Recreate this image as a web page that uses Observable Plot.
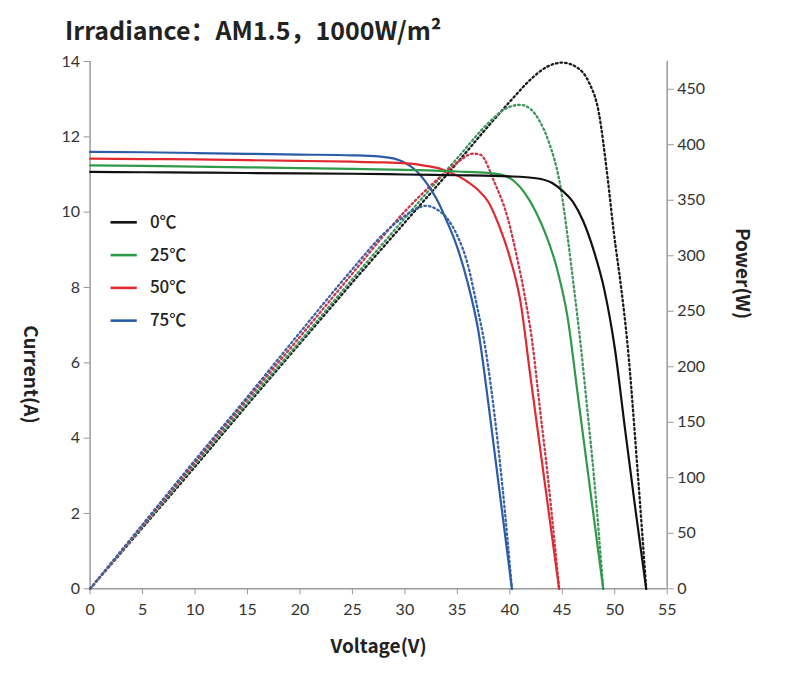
<!DOCTYPE html>
<html><head><meta charset="utf-8">
<script src="https://cdn.jsdelivr.net/npm/d3@7"></script>
<script src="https://cdn.jsdelivr.net/npm/@observablehq/plot@0.6"></script>
<style>
body{margin:0;background:#fff;}
#wrap{position:relative;width:790px;height:680px;overflow:hidden;}
#chart{position:absolute;left:0;top:0;}
#title{position:absolute;left:65px;top:11px;font-family:"Noto Sans CJK SC","Noto Sans",sans-serif;font-weight:bold;font-size:25px;color:#222;white-space:nowrap;}
</style></head><body>
<div id="wrap"><div id="chart"></div><div id="title">Irradiance：AM1.5，1000W/m²</div></div>
<script>
// ---- data ----
const seriesLabels = ["0℃", "25℃", "50℃", "75℃"];
const seriesColors = ["#111111", "#2e9a48", "#e02a2f", "#2b5ca8"];
const powerColors  = ["#1a1a1a", "#3f9560", "#cc3448", "#3a62a2"];

const xTicks = [0, 5, 10, 15, 20, 25, 30, 35, 40, 45, 50, 55];
const currentTicks = [0, 2, 4, 6, 8, 10, 12, 14];
const powerTicks = [0, 50, 100, 150, 200, 250, 300, 350, 400, 450];

// Current (A) vs Voltage (V)
const voltage0C = [0, 5, 10, 15, 20, 25, 30, 35, 40, 42.5, 44, 45, 46, 47, 48, 49, 50, 51, 52, 53];
const current0C = [11.07, 11.06, 11.05, 11.04, 11.03, 11.02, 11.0, 10.98, 10.95, 10.9, 10.78, 10.57, 10.28, 9.76, 8.98, 7.95, 6.4, 4.2, 2.05, 0];
const voltage25C = [0, 5, 10, 15, 20, 25, 30, 35, 38, 39.5, 40.5, 41.5, 42.5, 43.5, 44.5, 45.5, 46.5, 47.5, 48.9];
const current25C = [11.24, 11.23, 11.21, 11.19, 11.17, 11.15, 11.12, 11.08, 11.04, 10.97, 10.8, 10.48, 10.0, 9.36, 8.5, 7.22, 5.1, 2.97, 0];
const voltage50C = [0, 5, 10, 15, 20, 25, 28, 30.5, 32, 33.5, 35, 36, 37, 38, 39, 40, 41, 42, 43, 44.7];
const current50C = [11.42, 11.41, 11.40, 11.38, 11.36, 11.34, 11.32, 11.29, 11.23, 11.14, 10.97, 10.8, 10.58, 10.25, 9.62, 8.8, 7.65, 5.56, 3.5, 0];
const voltage75C = [0, 5, 10, 15, 20, 25, 27.5, 29, 30, 31, 32, 33, 34, 35, 36, 37, 38, 39, 40.2];
const current75C = [11.6, 11.59, 11.57, 11.55, 11.53, 11.51, 11.48, 11.42, 11.31, 11.12, 10.8, 10.36, 9.76, 9.06, 8.11, 6.85, 4.83, 2.63, 0];

// Power (W) vs Voltage (V)
const pVoltage0C = [0, 5, 10, 15, 20, 25, 30, 35, 38.8, 40.4, 42, 43.5, 45, 46.5, 47.5, 48.5, 49.3, 49.9, 50.6, 51.2, 52.15, 53];
const power0C    = [0, 55, 110, 166, 221, 276, 330, 384, 426, 443, 459, 470, 474, 469, 457, 428, 372, 322, 272, 222, 110, 0];
const pVoltage25C = [0, 5, 10, 15, 20, 25, 30, 35, 38, 39.5, 41, 42, 42.8, 43.7, 44.85, 45.5, 46.1, 46.75, 47.4, 48, 48.9];
const power25C    = [0, 56, 112, 168, 223, 279, 334, 388, 420, 432, 436, 432, 422, 403, 361, 318, 272, 220, 160, 103, 0];
const pVoltage50C = [0, 5, 10, 15, 20, 25, 30, 33, 35, 36.5, 37.2, 38.5, 39.8, 40.7, 41.4, 42.1, 42.9, 43.6, 44.7];
const power50C    = [0, 57, 114, 171, 227, 284, 340, 368, 384, 392, 391, 367, 334, 298, 265, 225, 160, 103, 0];
const pVoltage75C = [0, 5, 10, 15, 20, 25, 28, 30, 31, 32, 33, 34, 35, 36, 36.8, 37.7, 38.5, 39.3, 40.2];
const power75C    = [0, 58, 116, 173, 231, 288, 320, 336, 342, 345, 342, 334, 318, 292, 258, 215, 160, 92, 0];

// ---- build tables ----
const currentSets = [[voltage0C, current0C], [voltage25C, current25C], [voltage50C, current50C], [voltage75C, current75C]];
const powerSets = [[pVoltage0C, power0C], [pVoltage25C, power25C], [pVoltage50C, power50C], [pVoltage75C, power75C]];
const powerMax = 475, currentMax = 14;
const k = currentMax / powerMax;

const currentRows = currentSets.map(([v, c]) => v.map((x, j) => ({V: x, I: c[j]})));
const powerRows = powerSets.map(([v, p]) => v.map((x, j) => ({V: x, P: p[j]})));

const font = "Lato, 'Noto Sans', sans-serif";
const boldFont = "'Noto Sans CJK SC', 'Noto Sans', sans-serif";

const marks = [];
// axis lines
marks.push(Plot.ruleX([0], {y1: 0, y2: currentMax, stroke: "#9a9a9a", strokeWidth: 1.5}));
marks.push(Plot.ruleX([55], {y1: 0, y2: currentMax, stroke: "#9a9a9a", strokeWidth: 1.5}));
marks.push(Plot.ruleY([0], {x1: 0, x2: 55, stroke: "#9a9a9a", strokeWidth: 1.5}));
// axes
marks.push(Plot.axisX({ticks: xTicks, tickSize: 6, tickPadding: 9, label: null, stroke: "#9a9a9a", fill: "#333", fontSize: 16}));
marks.push(Plot.axisY({ticks: currentTicks, anchor: "left", tickSize: 6, tickPadding: 4, label: null, stroke: "#9a9a9a", fill: "#333", fontSize: 16}));
marks.push(Plot.axisY(powerTicks.map(p => p * k), {anchor: "right", tickSize: 6, tickPadding: 4, label: null,
  tickFormat: d => Math.round(d / k), stroke: "#9a9a9a", fill: "#333", fontSize: 16}));
// power curves (dotted)
powerRows.forEach((rows, i) => {
  marks.push(Plot.line(rows, {x: "V", y: d => d.P * k, curve: "monotone-x", stroke: powerColors[i],
    strokeWidth: 2.3, strokeDasharray: "1.6,3"}));
});
// current curves (solid)
[3, 2, 1, 0].forEach(i => {
  marks.push(Plot.line(currentRows[i], {x: "V", y: "I", curve: "monotone-x", stroke: seriesColors[i], strokeWidth: 2.2}));
});
// legend
seriesLabels.forEach((lab, i) => {
  marks.push(Plot.link([lab], {x1: () => 1.95, x2: () => 4.45, y1: () => 9.73 - i * 0.87, y2: () => 9.73 - i * 0.87,
    stroke: seriesColors[i], strokeWidth: 2.6}));
  marks.push(Plot.text([lab], {x: () => 5.7, y: () => 9.73 - i * 0.87, text: d => d, textAnchor: "start",
    fontSize: 17, fontWeight: 500, fill: "#222", fontFamily: boldFont}));
});
// axis titles
marks.push(Plot.text(["Current(A)"], {text: d => d, frameAnchor: "left", dx: -60, rotate: 90, fontSize: 19, fontWeight: "bold", fill: "#222", fontFamily: boldFont}));
marks.push(Plot.text(["Power(W)"], {text: d => d, frameAnchor: "right", dx: 75, dy: -6, rotate: 90, fontSize: 19, fontWeight: "bold", fill: "#222", fontFamily: boldFont}));
marks.push(Plot.text(["Voltage(V)"], {text: d => d, frameAnchor: "bottom", dy: 64, fontSize: 19, fontWeight: "bold", fill: "#222", fontFamily: boldFont}));

const chart = Plot.plot({
  width: 790, height: 680,
  marginTop: 61, marginBottom: 91.7, marginLeft: 89.6, marginRight: 123.3,
  x: {domain: [0, 55]},
  y: {domain: [0, currentMax]},
  style: {fontFamily: font, fontSize: "16px", color: "#333", background: "transparent", overflow: "visible"},
  marks
});
document.getElementById("chart").appendChild(chart);
</script>
</body></html>
